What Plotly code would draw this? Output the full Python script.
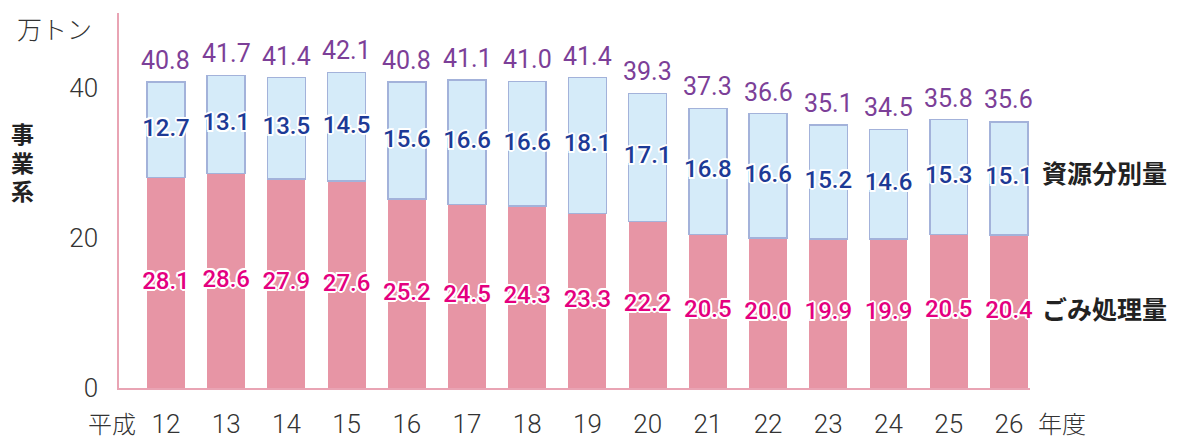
import plotly.graph_objects as go

years = ['12', '13', '14', '15', '16', '17', '18', '19', '20', '21', '22', '23', '24', '25', '26']
garbage = [28.1, 28.6, 27.9, 27.6, 25.2, 24.5, 24.3, 23.3, 22.2, 20.5, 20.0, 19.9, 19.9, 20.5, 20.4]
resource = [12.7, 13.1, 13.5, 14.5, 15.6, 16.6, 16.6, 18.1, 17.1, 16.8, 16.6, 15.2, 14.6, 15.3, 15.1]
totals = [40.8, 41.7, 41.4, 42.1, 40.8, 41.1, 41.0, 41.4, 39.3, 37.3, 36.6, 35.1, 34.5, 35.8, 35.6]

NUM_FONT = 'Roboto'
JP_FONT = 'Noto Sans CJK JP'
OUTLINE = ('2px 0 0 white, -2px 0 0 white, 0 2px 0 white, 0 -2px 0 white, '
           '1.5px 1.5px 0 white, -1.5px -1.5px 0 white, 1.5px -1.5px 0 white, -1.5px 1.5px 0 white')

fig = go.Figure()

fig.add_trace(go.Bar(
    x=years, y=garbage, name='ごみ処理量',
    marker=dict(color='#e795a5', line=dict(width=0)),
))
fig.add_trace(go.Bar(
    x=years, y=resource, name='資源分別量',
    marker=dict(color='#d5ebf9', line=dict(color='#a3b2da', width=1.5)),
))

# labels in the middle of each segment
fig.add_trace(go.Scatter(
    x=years, y=[g / 2 for g in garbage], mode='text',
    text=['%.1f' % v for v in garbage], textposition='middle center',
    textfont=dict(family=NUM_FONT, size=24, color='#e4007f', weight=500, shadow=OUTLINE),
    cliponaxis=False, hoverinfo='skip',
))
fig.add_trace(go.Scatter(
    x=years, y=[g + r / 2 for g, r in zip(garbage, resource)], mode='text',
    text=['%.1f' % v for v in resource], textposition='middle center',
    textfont=dict(family=NUM_FONT, size=24, color='#1d3a96', weight=500, shadow=OUTLINE),
    cliponaxis=False, hoverinfo='skip',
))

side_font = dict(family=JP_FONT, size=23, color='#222222', weight=700)

fig.update_layout(
    width=1182, height=439,
    barmode='stack', bargap=0.37,
    showlegend=False,
    plot_bgcolor='white', paper_bgcolor='white',
    margin=dict(l=119, r=152, t=13, b=51),
    xaxis=dict(
        type='category', range=[-0.78, 14.35], automargin=False,
        showline=True, linecolor='#e9a4b4', linewidth=1.5,
        showgrid=False, ticks='', ticklabelstandoff=12,
        tickfont=dict(family=NUM_FONT, size=26, color='#333333', weight=300),
    ),
    yaxis=dict(
        range=[0, 50], tickvals=[0, 20, 40], automargin=False,
        showline=True, linecolor='#e9a4b4', linewidth=1.5,
        showgrid=False, zeroline=False, ticks='', ticklabelstandoff=14,
        tickfont=dict(family=NUM_FONT, size=26, color='#333333', weight=300),
    ),
    annotations=[
        dict(text='万トン', x=54, y=28, showarrow=False, xanchor='center',
             font=dict(family=JP_FONT, size=25, color='#333333', weight=300)),
        dict(text='事', x=22, y=133, showarrow=False, xanchor='center', font=side_font),
        dict(text='業', x=22, y=162, showarrow=False, xanchor='center', font=side_font),
        dict(text='系', x=22, y=190, showarrow=False, xanchor='center', font=side_font),
        dict(text='平成', x=112, y=422, showarrow=False, xanchor='center',
             font=dict(family=JP_FONT, size=24, color='#333333', weight=300)),
        dict(text='年度', x=1062, y=422, showarrow=False, xanchor='center',
             font=dict(family=JP_FONT, size=24, color='#333333', weight=300)),
        dict(text='資源分別量', x=1040, y=172, showarrow=False, xanchor='left',
             font=dict(family=JP_FONT, size=25, color='#222222', weight=700)),
        dict(text='ごみ処理量', x=1040, y=308, showarrow=False, xanchor='left',
             font=dict(family=JP_FONT, size=25, color='#222222', weight=700)),
    ],
)

# annotations above are placed in pixel coordinates of the page
for a in fig.layout.annotations:
    a.xref = 'paper'
    a.yref = 'paper'
    a.yanchor = 'middle'
    a.x = (a.x - 119) / (1182 - 119 - 152)
    a.y = (439 - 51 - a.y) / (439 - 13 - 51)

# totals above each bar (x given as category index)
for i, t in enumerate(totals):
    fig.add_annotation(x=i, y=t, text='%.1f' % t, showarrow=False,
                       yanchor='bottom', yshift=5,
                       font=dict(family=NUM_FONT, size=25, color='#7c3f98'))

fig.write_html('out.html', config={'displayModeBar': False},
               post_script="document.body.style.margin='0';document.body.style.overflow='hidden';")
